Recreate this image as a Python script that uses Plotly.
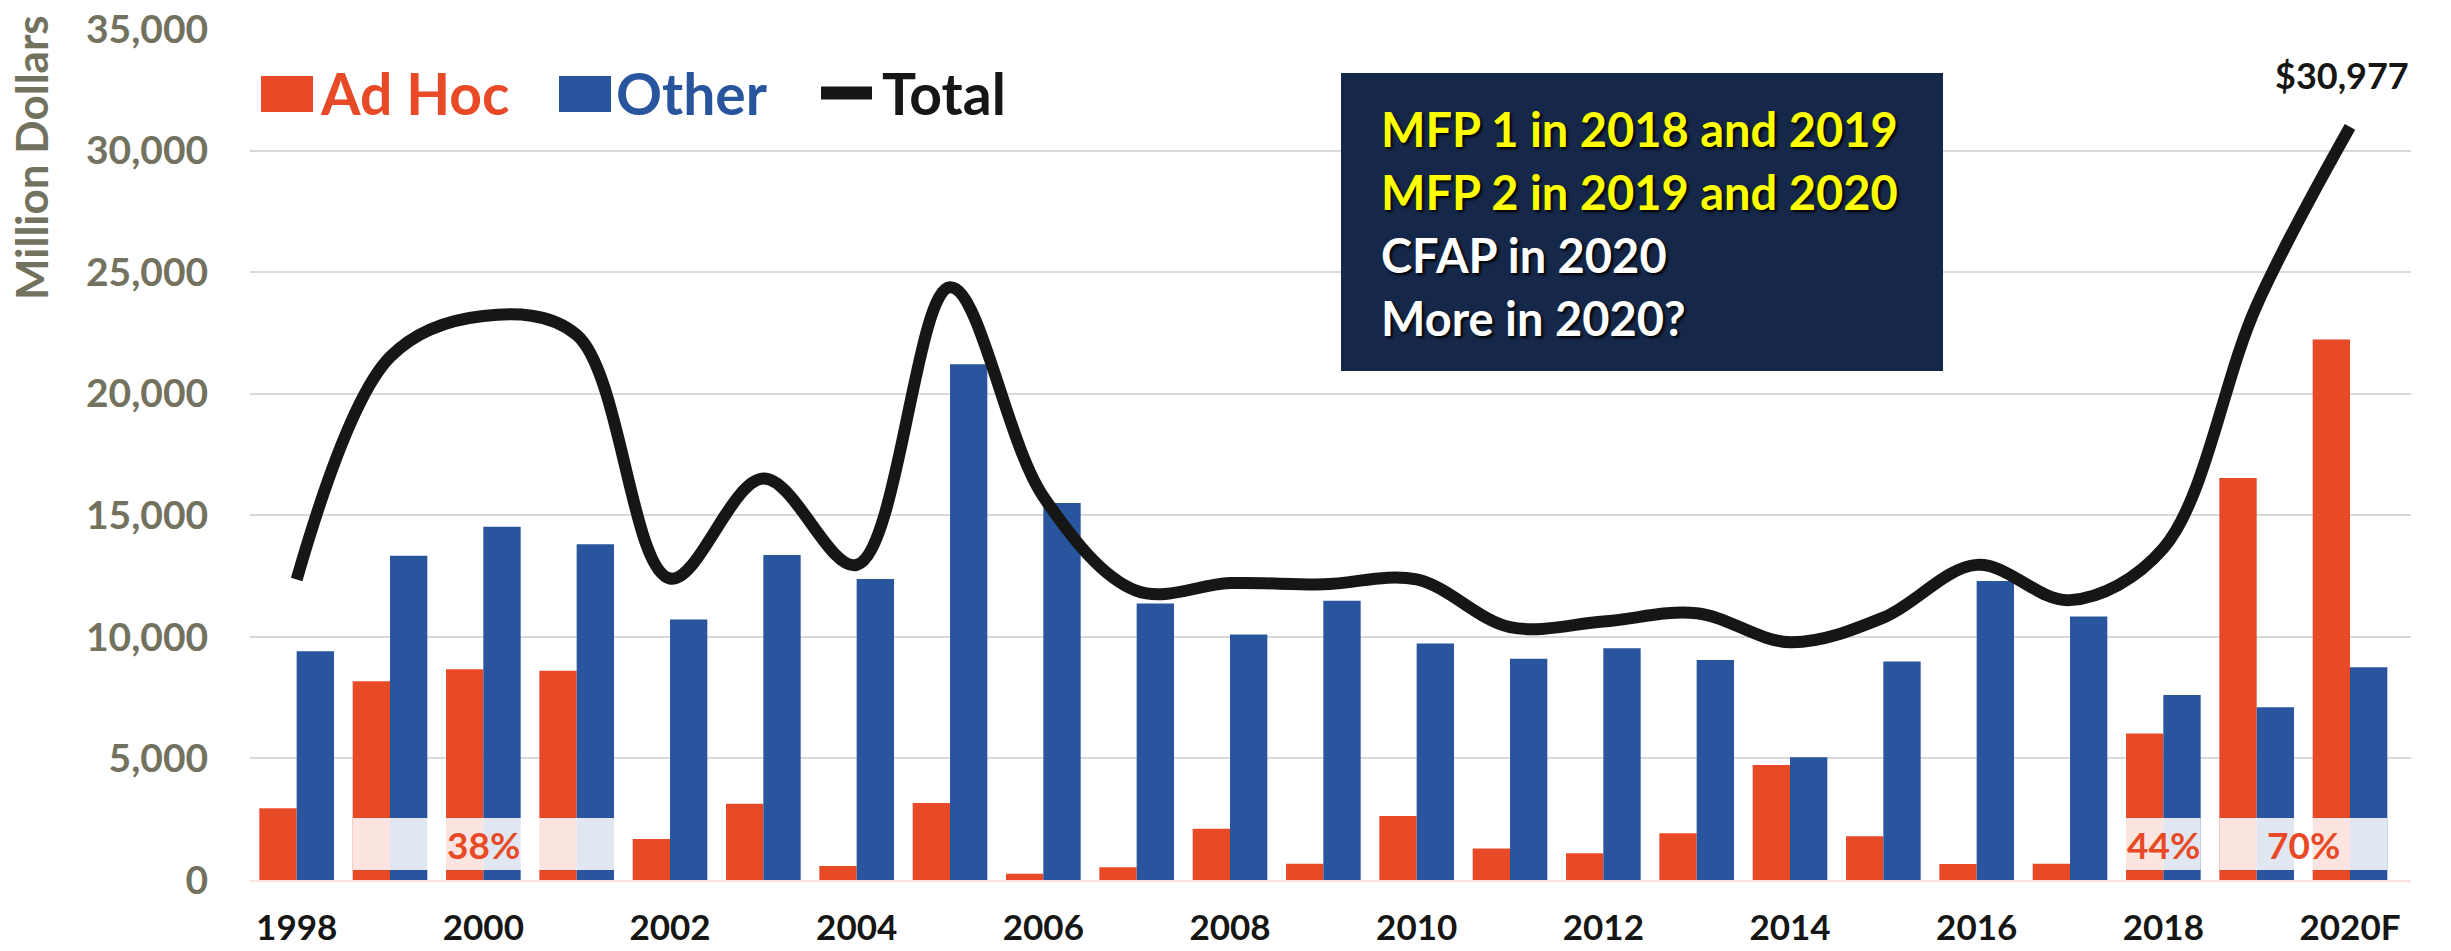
import plotly.graph_objects as go

# Farm payments by year (million dollars)
years = ["1998", "1999", "2000", "2001", "2002", "2003", "2004", "2005", "2006", "2007", "2008", "2009",
         "2010", "2011", "2012", "2013", "2014", "2015", "2016", "2017", "2018", "2019", "2020F"]
ad_hoc = [2950, 8170, 8670, 8610, 1690, 3140, 580, 3170, 260, 520, 2110, 670,
          2630, 1300, 1100, 1920, 4730, 1800, 660, 670, 6030, 16530, 22230]
other = [9410, 13340, 14530, 13810, 10710, 13370, 12380, 21210, 15510, 11370, 10100, 11490,
         9730, 9100, 9530, 9050, 5050, 8990, 12300, 10840, 7610, 7100, 8750]
total = [12360, 21510, 23200, 22420, 12400, 16510, 12960, 24380, 15770, 11890, 12210, 12160,
         12360, 10400, 10630, 10970, 9780, 10790, 12960, 11510, 13640, 23630, 30977]
x_ticks = ["1998", "2000", "2002", "2004", "2006", "2008", "2010", "2012", "2014", "2016", "2018", "2020F"]

# share of ad hoc payments, labelled over groups of years
share_labels = ["38%", "44%", "70%"]
share_spans = [(1, 3), (20, 20), (21, 22)]   # category index ranges
box_lines = ["MFP 1 in 2018 and 2019", "MFP 2 in 2019 and 2020", "CFAP in 2020", "More in 2020?"]
box_colors = ["#FFFF00", "#FFFF00", "#FFFFFF", "#FFFFFF"]

RED = "#E84A27"
BLUE = "#28559E"
GRAY = "#72725F"
INK = "#161614"
FONT = "Lato"

W, H = 2451, 951
L, R, T, B = 250, 2411, 29, 880   # plot area in pixels


def px(x):
    return (x - L) / (R - L)


def py(y):
    return (B - y) / (B - T)


fig = go.Figure()
fig.add_trace(go.Bar(x=years, y=ad_hoc, name="Ad Hoc", marker=dict(color=RED, line_width=0)))
fig.add_trace(go.Bar(x=years, y=other, name="Other", marker=dict(color=BLUE, line_width=0)))
fig.add_trace(go.Scatter(x=years, y=total, name="Total", mode="lines",
                         line=dict(color=INK, width=12, shape="spline", smoothing=1.0)))

shapes = []
annotations = []

# translucent boxes behind the percentage labels
for (i0, i1), lab in zip(share_spans, share_labels):
    shapes.append(dict(type="rect", xref="x", yref="y", x0=i0 - 0.4, x1=i1 + 0.4, y0=410, y1=2550,
                       fillcolor="rgba(255,255,255,0.86)", line_width=0, layer="above"))
    annotations.append(dict(xref="x", yref="y", x=(i0 + i1) / 2, y=1480, text=lab, showarrow=False,
                            xanchor="center", yanchor="middle",
                            font=dict(family=FONT, size=37, color=RED, weight="bold")))

# hand-made legend
shapes.append(dict(type="rect", xref="paper", yref="paper", x0=px(261), x1=px(313), y0=py(112), y1=py(76),
                   fillcolor=RED, line_width=0))
shapes.append(dict(type="rect", xref="paper", yref="paper", x0=px(559), x1=px(611), y0=py(112), y1=py(76),
                   fillcolor=BLUE, line_width=0))
shapes.append(dict(type="line", xref="paper", yref="paper", x0=px(821), x1=px(872), y0=py(93), y1=py(93),
                   line=dict(color=INK, width=13)))
for x0, txt, col in [(318, "Ad Hoc", RED), (614, "Other", BLUE), (880, "Total", INK)]:
    annotations.append(dict(xref="paper", yref="paper", x=px(x0), y=py(93), xanchor="left", yanchor="middle",
                            text=txt, showarrow=False, font=dict(family=FONT, size=57, color=col, weight="bold")))

# navy text box
shapes.append(dict(type="rect", xref="paper", yref="paper", x0=px(1341), x1=px(1943), y0=py(371), y1=py(73),
                   fillcolor="#16284A", line_width=0, layer="above"))
for k, (txt, col) in enumerate(zip(box_lines, box_colors)):
    annotations.append(dict(xref="paper", yref="paper", x=px(1379), y=py(129 + 63 * k), xanchor="left",
                            yanchor="middle", text=txt, showarrow=False,
                            font=dict(family=FONT, size=47, color=col, weight="bold",
                                      shadow="2px 2px 3px #000000")))

# value label on the last point
annotations.append(dict(x="2020F", y=total[-1], text="$30,977", showarrow=False, xanchor="center",
                        yanchor="bottom", yshift=28, xshift=-8,
                        font=dict(family=FONT, size=36, color=INK, weight="bold")))

# y-axis title placed near the top like the original
annotations.append(dict(xref="paper", yref="paper", x=px(31), y=py(158), text="Million Dollars", textangle=-90,
                        xanchor="center", yanchor="middle", showarrow=False,
                        font=dict(family=FONT, size=44, color=GRAY, weight="bold")))

fig.update_layout(
    width=W, height=H,
    margin=dict(l=L, r=W - R, t=T, b=H - B, autoexpand=False),
    barmode="group", bargap=0.2, bargroupgap=0,
    showlegend=False,
    plot_bgcolor="white", paper_bgcolor="white",
    font=dict(family=FONT),
    shapes=shapes,
    annotations=annotations,
)
fig.update_xaxes(type="category", tickmode="array", tickvals=x_ticks, automargin=False,
                 tickfont=dict(family=FONT, size=35, color=INK, weight="bold"),
                 ticks="outside", ticklen=0, tickcolor="white", ticklabelstandoff=16,
                 ticklabeloverflow="allow",
                 showline=True, linecolor="#FBE2DC", linewidth=2, showgrid=False)
fig.update_yaxes(range=[0, 35000], dtick=5000, tickformat=",", automargin=False,
                 tickfont=dict(family=FONT, size=39, color=GRAY, weight="bold"),
                 ticks="outside", ticklen=0, tickcolor="white", ticklabelstandoff=33,
                 ticklabeloverflow="allow",
                 showgrid=True, gridcolor="#D9D9D9", gridwidth=2, zeroline=False, showline=False)

# drop the default 8px page margin so the figure sits at the window corner; no modebar
fig.write_html("out.html", config={"displayModeBar": False},
               post_script="document.body.style.margin='0';")
